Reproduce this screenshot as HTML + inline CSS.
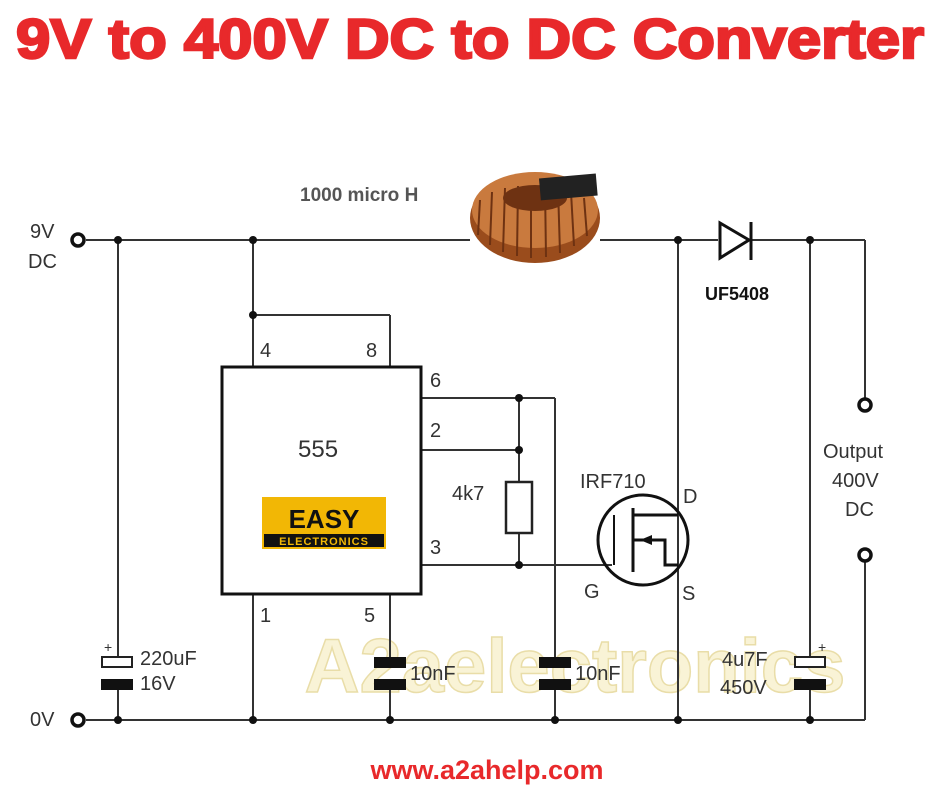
<!DOCTYPE html>
<html><head><meta charset="utf-8"><style>
html,body{margin:0;padding:0;background:#fff;}
svg{display:block}
</style></head><body>
<svg width="940" height="788" viewBox="0 0 940 788" xmlns="http://www.w3.org/2000/svg">
<rect width="940" height="788" fill="#fff"/>
<text x="16" y="58" textLength="908" lengthAdjust="spacingAndGlyphs" font-family="Liberation Sans, sans-serif" font-weight="bold" font-size="56" fill="#e8292b" stroke="#e8292b" stroke-width="2.5">9V to 400V DC to DC Converter</text>

<!-- watermark -->
<text x="575" y="692" text-anchor="middle" font-family="Liberation Sans, sans-serif" font-weight="bold" font-size="76" fill="#f8f1cf" stroke="#e6d89a" stroke-width="1.5" opacity="0.85">A2aelectronics</text>

<g stroke="#333" stroke-width="2" fill="none">
<line x1="86" y1="240" x2="470" y2="240"/>
<line x1="600" y1="240" x2="718" y2="240"/>
<line x1="750" y1="240" x2="865" y2="240"/>
<line x1="865" y1="240" x2="865" y2="398"/>
<line x1="865" y1="562" x2="865" y2="720"/>
<line x1="86" y1="720" x2="865" y2="720"/>
<line x1="118" y1="240" x2="118" y2="657"/>
<line x1="118" y1="690" x2="118" y2="720"/>
<line x1="253" y1="240" x2="253" y2="367"/>
<line x1="253" y1="315" x2="390" y2="315"/>
<line x1="390" y1="315" x2="390" y2="367"/>
<line x1="253" y1="594" x2="253" y2="720"/>
<line x1="390" y1="594" x2="390" y2="657"/>
<line x1="390" y1="690" x2="390" y2="720"/>
<line x1="421" y1="398" x2="555" y2="398"/>
<line x1="421" y1="450" x2="519" y2="450"/>
<line x1="421" y1="565" x2="612" y2="565"/>
<line x1="519" y1="398" x2="519" y2="482"/>
<line x1="519" y1="533" x2="519" y2="565"/>
<line x1="555" y1="398" x2="555" y2="657"/>
<line x1="555" y1="690" x2="555" y2="720"/>
<line x1="678" y1="240" x2="678" y2="720"/>
<line x1="810" y1="240" x2="810" y2="657"/>
<line x1="810" y1="690" x2="810" y2="720"/>
</g>

<rect x="222" y="367" width="199" height="227" fill="#fff" stroke="#111" stroke-width="3"/>
<rect x="506" y="482" width="26" height="51" fill="#fff" stroke="#222" stroke-width="2.5"/>

<g stroke="#111" stroke-width="3" fill="none">
<circle cx="643" cy="540" r="45"/>
<line x1="614" y1="515" x2="614" y2="565" stroke-width="2"/>
<line x1="633" y1="508" x2="633" y2="572"/>
<polyline points="633,515 678,515"/>
<polyline points="633,540 665,540 665,565 678,565" />
</g>
<polygon points="640,540 652,535 652,545" fill="#111"/>

<polygon points="720,223 720,258 749,240" fill="#fff" stroke="#111" stroke-width="3"/>
<line x1="751" y1="222" x2="751" y2="260" stroke="#111" stroke-width="3"/>

<rect x="102" y="657" width="30" height="10" fill="#fff" stroke="#222" stroke-width="2"/>
<rect x="101" y="679" width="32" height="11" fill="#111"/>
<rect x="374" y="657" width="32" height="11" fill="#111"/>
<rect x="374" y="679" width="32" height="11" fill="#111"/>
<rect x="539" y="657" width="32" height="11" fill="#111"/>
<rect x="539" y="679" width="32" height="11" fill="#111"/>
<rect x="795" y="657" width="30" height="10" fill="#fff" stroke="#222" stroke-width="2"/>
<rect x="794" y="679" width="32" height="11" fill="#111"/>

<g fill="#111">
<circle cx="118" cy="240" r="4"/><circle cx="253" cy="240" r="4"/><circle cx="253" cy="315" r="4"/>
<circle cx="678" cy="240" r="4"/><circle cx="810" cy="240" r="4"/>
<circle cx="519" cy="398" r="4"/><circle cx="519" cy="450" r="4"/><circle cx="519" cy="565" r="4"/>
<circle cx="118" cy="720" r="4"/><circle cx="253" cy="720" r="4"/><circle cx="390" cy="720" r="4"/>
<circle cx="555" cy="720" r="4"/><circle cx="678" cy="720" r="4"/><circle cx="810" cy="720" r="4"/>
</g>
<g fill="#fff" stroke="#111" stroke-width="3.5">
<circle cx="78" cy="240" r="6"/><circle cx="78" cy="720" r="6"/>
<circle cx="865" cy="405" r="6"/><circle cx="865" cy="555" r="6"/>
</g>

<!-- toroid -->
<ellipse cx="535" cy="218" rx="65" ry="45" fill="#9a4c1c"/>
<ellipse cx="535" cy="210" rx="63" ry="38" fill="#c97a3e"/>
<g stroke="#6e3212" stroke-width="2">
<line x1="480" y1="200" x2="478" y2="235"/><line x1="492" y1="192" x2="490" y2="245"/>
<line x1="505" y1="188" x2="503" y2="252"/><line x1="518" y1="186" x2="517" y2="256"/>
<line x1="531" y1="186" x2="531" y2="258"/><line x1="545" y1="186" x2="546" y2="257"/>
<line x1="558" y1="188" x2="560" y2="253"/><line x1="571" y1="192" x2="574" y2="246"/>
<line x1="584" y1="198" x2="587" y2="236"/>
</g>
<ellipse cx="535" cy="198" rx="32" ry="13" fill="#6e3212"/>
<rect x="540" y="176" width="57" height="22" fill="#222" transform="rotate(-5 568 189)"/>

<g font-family="Liberation Sans, sans-serif" fill="#333" font-size="20">
<text x="30" y="238">9V</text>
<text x="28" y="268">DC</text>
<text x="30" y="726">0V</text>
<text x="260" y="357">4</text>
<text x="366" y="357">8</text>
<text x="430" y="387">6</text>
<text x="430" y="437">2</text>
<text x="430" y="554">3</text>
<text x="260" y="622">1</text>
<text x="364" y="622">5</text>
<text x="298" y="457" font-size="24">555</text>
<text x="452" y="500">4k7</text>
<text x="580" y="488">IRF710</text>
<text x="683" y="503">D</text>
<text x="584" y="598">G</text>
<text x="682" y="600">S</text>
<text x="140" y="665">220uF</text>
<text x="140" y="690">16V</text>
<text x="410" y="680">10nF</text>
<text x="575" y="680">10nF</text>
<text x="722" y="666">4u7F</text>
<text x="720" y="694">450V</text>
<text x="823" y="458">Output</text>
<text x="832" y="487">400V</text>
<text x="845" y="516">DC</text>
<text x="104" y="652" font-size="14">+</text>
<text x="818" y="652" font-size="14">+</text>
</g>
<text x="300" y="201" font-family="Liberation Sans, sans-serif" font-weight="bold" font-size="19" fill="#555">1000 micro H</text>
<text x="705" y="300" font-family="Liberation Sans, sans-serif" font-weight="bold" font-size="18" fill="#111">UF5408</text>

<rect x="262" y="497" width="124" height="52" fill="#f2b705"/>
<rect x="264" y="534" width="120" height="13" fill="#111"/>
<text x="324" y="528" text-anchor="middle" font-family="Liberation Sans, sans-serif" font-weight="bold" font-size="26" fill="#111">EASY</text>
<text x="324" y="545" text-anchor="middle" font-family="Liberation Sans, sans-serif" font-weight="bold" font-size="11" fill="#f2b705" letter-spacing="1">ELECTRONICS</text>

<text x="487" y="779" text-anchor="middle" font-family="Liberation Sans, sans-serif" font-weight="bold" font-size="27" fill="#e8292b">www.a2ahelp.com</text>
</svg>
</body></html>
